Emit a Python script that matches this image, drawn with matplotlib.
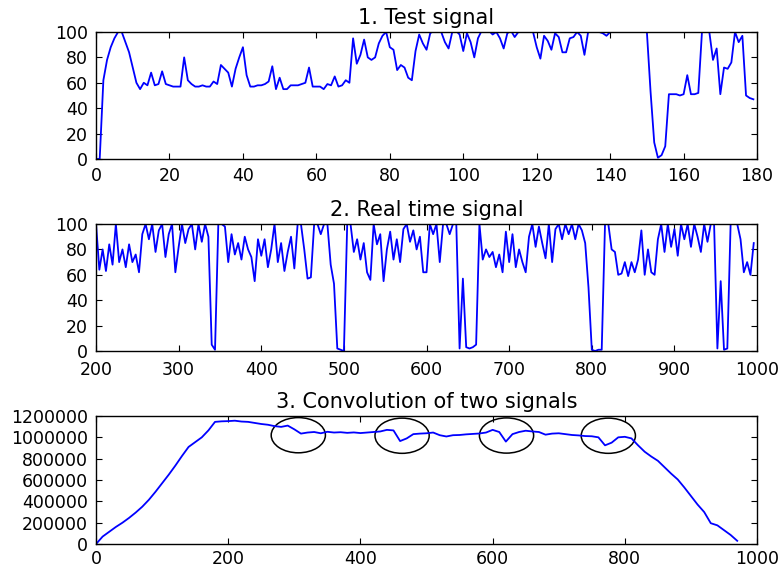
import numpy as np
import matplotlib
matplotlib.use("Agg")
import matplotlib.pyplot as plt
from matplotlib.patches import Ellipse

# 1. test signal, one sample per step (x = 0..179)
test_signal = [
    0, 0, 62, 78, 88, 95, 100, 100, 92, 84,
    72, 60, 55, 60, 58, 68, 58, 59, 69, 59,
    58, 57, 57, 57, 80, 62, 59, 57, 57, 58,
    57, 57, 61, 59, 74, 71, 68, 57, 71, 80,
    88, 66, 57, 57, 58, 58, 59, 61, 73, 55,
    64, 55, 55, 58, 58, 58, 59, 60, 72, 57,
    57, 57, 55, 59, 58, 65, 57, 58, 62, 60,
    95, 75, 82, 94, 80, 78, 80, 91, 97, 100,
    88, 86, 70, 74, 72, 64, 62, 85, 98, 91,
    86, 99, 101, 101, 100, 92, 87, 100, 101, 98,
    85, 99, 92, 80, 95, 101, 102, 101, 98, 100,
    95, 87, 99, 101, 96, 100, 102, 102, 101, 100,
    88, 79, 97, 93, 86, 99, 96, 84, 84, 95,
    96, 100, 97, 82, 100, 102, 101, 100, 99, 97,
    100, 103, 104, 104, 103, 104, 104, 103, 104, 103,
    100, 53, 13, 1, 3, 10, 51, 51, 51, 50,
    51, 66, 51, 51, 52, 100, 105, 100, 78, 87,
    51, 72, 71, 76, 100, 92, 97, 50, 48, 47,
]

# 2. real time signal, read every 4 samples from 200
real_start, real_step = 200, 4
real_signal = [
    100, 64, 80, 63, 84, 68, 100, 70, 80, 66, 84, 70, 76, 62, 92, 100, 88, 100, 78, 95, 100, 74, 92, 100, 62,
    82, 100, 85, 96, 100, 80, 100, 86, 100, 90, 5, 1, 100, 100, 98, 70, 92, 76, 85, 72, 90, 80, 74, 55, 88,
    75, 88, 66, 80, 100, 70, 85, 63, 78, 90, 65, 100, 100, 80, 57, 58, 100, 100, 92, 100, 100, 68, 53, 2, 1,
    0, 100, 100, 78, 88, 72, 85, 62, 56, 100, 84, 92, 55, 80, 94, 72, 88, 70, 96, 100, 86, 95, 80, 90, 62,
    62, 100, 92, 100, 70, 100, 100, 92, 100, 100, 2, 57, 3, 2, 3, 5, 100, 72, 80, 74, 78, 66, 76, 62, 94,
    70, 92, 66, 80, 70, 62, 90, 100, 82, 98, 85, 73, 100, 70, 96, 100, 88, 100, 92, 100, 88, 100, 95, 85, 50,
    1, 0, 1, 1, 100, 100, 80, 78, 60, 61, 70, 59, 70, 62, 72, 95, 60, 80, 62, 60, 88, 100, 78, 100, 82,
    96, 75, 100, 88, 100, 82, 100, 90, 78, 100, 86, 100, 100, 2, 55, 1, 2, 100, 100, 100, 88, 62, 70, 60, 85,
]

# 3. convolution, read every 10 samples from 0
conv_step = 10
conv_signal = [
    0, 70000, 115000, 160000, 200000, 245000, 295000, 350000, 415000, 490000,
    570000, 650000, 735000, 825000, 910000, 955000, 1000000, 1065000, 1145000, 1150000,
    1152000, 1156000, 1148000, 1145000, 1135000, 1125000, 1118000, 1105000, 1098000, 1110000,
    1075000, 1035000, 1045000, 1050000, 1038000, 1052000, 1045000, 1048000, 1042000, 1046000,
    1040000, 1045000, 1050000, 1055000, 1070000, 1065000, 965000, 990000, 1030000, 1035000,
    1038000, 1045000, 1020000, 1008000, 1020000, 1022000, 1028000, 1032000, 1036000, 1045000,
    1070000, 1050000, 960000, 1030000, 1050000, 1062000, 1055000, 1050000, 1025000, 1035000,
    1038000, 1030000, 1022000, 1018000, 1012000, 1010000, 1000000, 925000, 950000, 1000000,
    1005000, 990000, 925000, 865000, 820000, 780000, 720000, 660000, 605000, 530000,
    450000, 370000, 300000, 195000, 175000, 130000, 85000, 30000,
]

# circled disturbances on the convolution
circle_x = [306, 463, 621, 775]
circle_y = [1020000, 1015000, 1017000, 1015000]

fig = plt.figure(figsize=(7.82, 5.69), dpi=100, facecolor='white')
ax1 = fig.add_axes([0.1228, 0.7206, 0.8453, 0.2232])
ax2 = fig.add_axes([0.1228, 0.3831, 0.8453, 0.2232])
ax3 = fig.add_axes([0.1228, 0.0439, 0.8453, 0.2250])

ax1.plot(np.arange(len(test_signal)), test_signal, color='#0000ff', lw=1.3)
ax1.set_xlim(0, 180)
ax1.set_ylim(0, 100)
ax1.set_xticks(range(0, 181, 20))
ax1.set_yticks(range(0, 101, 20))
ax1.set_title('1. Test signal', fontsize=15)

real_x = real_start + np.arange(len(real_signal)) * real_step
ax2.plot(real_x, real_signal, color='#0000ff', lw=1.3)
ax2.set_xlim(200, 1000)
ax2.set_ylim(0, 100)
ax2.set_xticks(range(200, 1001, 100))
ax2.set_yticks(range(0, 101, 20))
ax2.set_title('2. Real time signal', fontsize=15)

conv_x = np.arange(len(conv_signal)) * conv_step
ax3.plot(conv_x, conv_signal, color='#0000ff', lw=1.3)
ax3.set_xlim(0, 1000)
ax3.set_ylim(0, 1200000)
ax3.set_xticks(range(0, 1001, 200))
ax3.set_yticks(range(0, 1200001, 200000))
ax3.ticklabel_format(style='plain', axis='y')
ax3.set_title('3. Convolution of two signals', fontsize=15)
for cx, cy in zip(circle_x, circle_y):
    ax3.add_patch(Ellipse((cx, cy), 82, 330000, fill=False, ec='black', lw=1.1))

for ax, xpad in ((ax1, 6), (ax2, 7), (ax3, 4)):
    ax.tick_params(direction='in', top=True, right=True, labelsize=12.5, length=4)
    ax.tick_params(axis='y', pad=6)
    ax.tick_params(axis='x', pad=xpad)
    for s in ax.spines.values():
        s.set_linewidth(1.0)

plt.savefig('out.png', dpi=100, facecolor='white')
